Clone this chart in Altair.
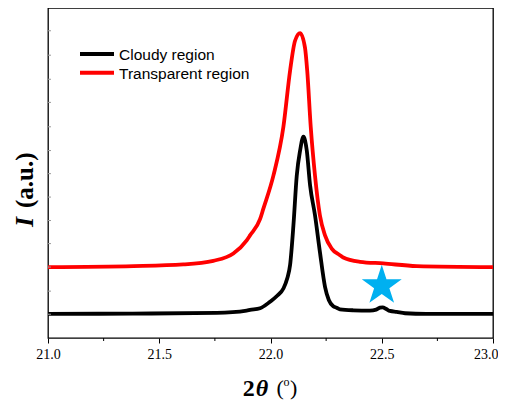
import altair as alt
import pandas as pd

# ---------------- data ----------------
series_names = ["Cloudy region", "Transparent region"]
series_colors = ["#000000", "#ff0000"]

cloudy_x = [21.0, 21.38, 21.758, 21.893, 21.908, 21.953, 21.998, 22.03, 22.058, 22.075, 22.088,
            22.103, 22.118, 22.133, 22.148, 22.163, 22.178, 22.2, 22.222, 22.245, 22.262,
            22.282, 22.297, 22.312, 22.372, 22.447, 22.475, 22.492, 22.504, 22.52, 22.537,
            22.567, 22.605, 22.7, 22.807, 23.0]
cloudy_y = [7.3, 7.4, 7.6, 8.3, 8.5, 9.0, 11.0, 12.8, 15.0, 18.0, 22.1,
            34.1, 49.2, 56.8, 61.0, 56.8, 46.2, 37.2, 26.1, 15.5, 11.5,
            9.6, 9.2, 8.7, 8.4, 8.3, 8.6, 9.2, 9.3, 8.8, 8.2,
            7.9, 7.5, 7.3, 7.3, 7.3]

transparent_x = [21.0, 21.384, 21.608, 21.743, 21.833, 21.893, 21.908, 21.953, 21.968, 22.013,
                 22.058, 22.088, 22.11, 22.133, 22.155, 22.165, 22.181, 22.2, 22.222, 22.245,
                 22.275, 22.312, 22.327, 22.402, 22.507, 22.657, 23.0]
transparent_y = [21.5, 21.8, 22.3, 23.4, 25.6, 29.6, 31.1, 36.0, 39.2, 49.2,
                 64.0, 81.0, 90.0, 92.4, 88.0, 81.0, 63.8, 49.2, 37.2, 31.1,
                 27.1, 25.1, 24.4, 23.1, 22.6, 21.8, 21.5]

star_x = [22.5]
star_y = [15.8]

x_major = [21.0, 21.5, 22.0, 22.5, 23.0]
x_minor = [21.25, 21.75, 22.25, 22.75]
y_ticks = [7.2, 14.2, 21.5, 28.6, 35.6, 42.7, 49.8, 56.8, 64.0, 71.4, 78.4, 85.7, 93.1]

# ---------------- tables ----------------
df = pd.concat([
    pd.DataFrame({"x": cloudy_x, "y": cloudy_y, "series": series_names[0]}),
    pd.DataFrame({"x": transparent_x, "y": transparent_y, "series": series_names[1]}),
], ignore_index=True)
star_df = pd.DataFrame({"x": star_x, "y": star_y})
ytick_df = pd.DataFrame({"y": y_ticks})
xminor_df = pd.DataFrame({"x": x_minor})

W, H = 445, 330
xscale = alt.Scale(domain=[21, 23], nice=False, zero=False)
yscale = alt.Scale(domain=[0, 100], nice=False, zero=False)

lines = alt.Chart(df).mark_line(strokeWidth=3.8, strokeJoin="round", interpolate="monotone").encode(
    x=alt.X("x:Q", scale=xscale,
            axis=alt.Axis(values=x_major, format=".1f", title=None, grid=False, domain=False,
                          tickSize=5, tickColor="#000", tickWidth=1,
                          labelFont="Liberation Serif", labelFontSize=14, labelColor="#000",
                          labelPadding=4, labelFlush=False, labelBound=False,
                          labelAlign={"expr": "datum.value >= 23 ? 'right' : 'center'"},
                          labelOffset={"expr": "datum.value >= 23 ? 5 : 0"})),
    y=alt.Y("y:Q", scale=yscale, axis=None),
    color=alt.Color("series:N", scale=alt.Scale(domain=series_names, range=series_colors), legend=None),
    detail="series:N",
)

star_path = ("M0,-1 L0.2245,-0.309 L0.9511,-0.309 L0.3633,0.118 L0.5878,0.809 L0,0.382 "
             "L-0.5878,0.809 L-0.3633,0.118 L-0.9511,-0.309 L-0.2245,-0.309 Z")
star = alt.Chart(star_df).mark_point(shape=star_path, filled=True, size=1764,
                                     color="#00b0f0", opacity=1, strokeWidth=0).encode(
    x=alt.X("x:Q", scale=xscale), y=alt.Y("y:Q", scale=yscale))

yticks = alt.Chart(ytick_df).mark_rule(color="#999999", strokeWidth=1).encode(
    y=alt.Y("y:Q", scale=yscale), x=alt.value(0), x2=alt.value(3))

xminor = alt.Chart(xminor_df).mark_rule(color="#000", strokeWidth=1).encode(
    x=alt.X("x:Q", scale=xscale), y=alt.value(H), y2=alt.value(H + 3))

layers = [lines, star, yticks, xminor]

# manual legend
for i, (name, col) in enumerate(zip(series_names, series_colors)):
    ld = pd.DataFrame({"series": [name]})
    yy = 46 + i * 18.7
    layers.append(alt.Chart(ld).mark_rule(color=col, strokeWidth=4).encode(
        x=alt.value(32), x2=alt.value(66), y=alt.value(yy)))
    layers.append(alt.Chart(ld).mark_text(align="left", baseline="middle", font="Liberation Sans",
                                          fontSize=15.5, color="#000").encode(
        text="series:N", x=alt.value(71), y=alt.value(yy + 1)))

# axis titles with mixed styles
one = pd.DataFrame({"d": [0]})
def txt(s, x, y, **kw):
    return alt.Chart(one).mark_text(font="Liberation Serif", color="#000", **kw).encode(
        text=alt.value(s), x=alt.value(x), y=alt.value(y))

layers += [
    txt("2", 194.7, 388, fontSize=24, fontWeight="bold", align="left", baseline="alphabetic"),
    txt("θ", 207.7, 388, fontSize=24, fontWeight="bold", fontStyle="italic", align="left", baseline="alphabetic"),
    txt("(", 228.5, 387, fontSize=22, align="left", baseline="alphabetic"),
    txt("o", 235.5, 378, fontSize=12, align="left", baseline="alphabetic"),
    txt(")", 242.0, 387, fontSize=22, align="left", baseline="alphabetic"),
    txt("I", -15, 219, fontSize=26, fontWeight="bold", fontStyle="italic", angle=270, align="left", baseline="alphabetic"),
    txt("(a.u.)", -15, 200, fontSize=25, fontWeight="bold", angle=270, align="left", baseline="alphabetic"),
]

chart = alt.layer(*layers).properties(
    width=W, height=H,
    autosize=alt.AutoSizeParams(type="none"),
    padding={"left": 40, "top": 0, "right": 5, "bottom": 63},
).configure_view(stroke="#000", strokeWidth=1.3)

chart.save("out.html", embed_options={"renderer": "svg", "actions": False})
